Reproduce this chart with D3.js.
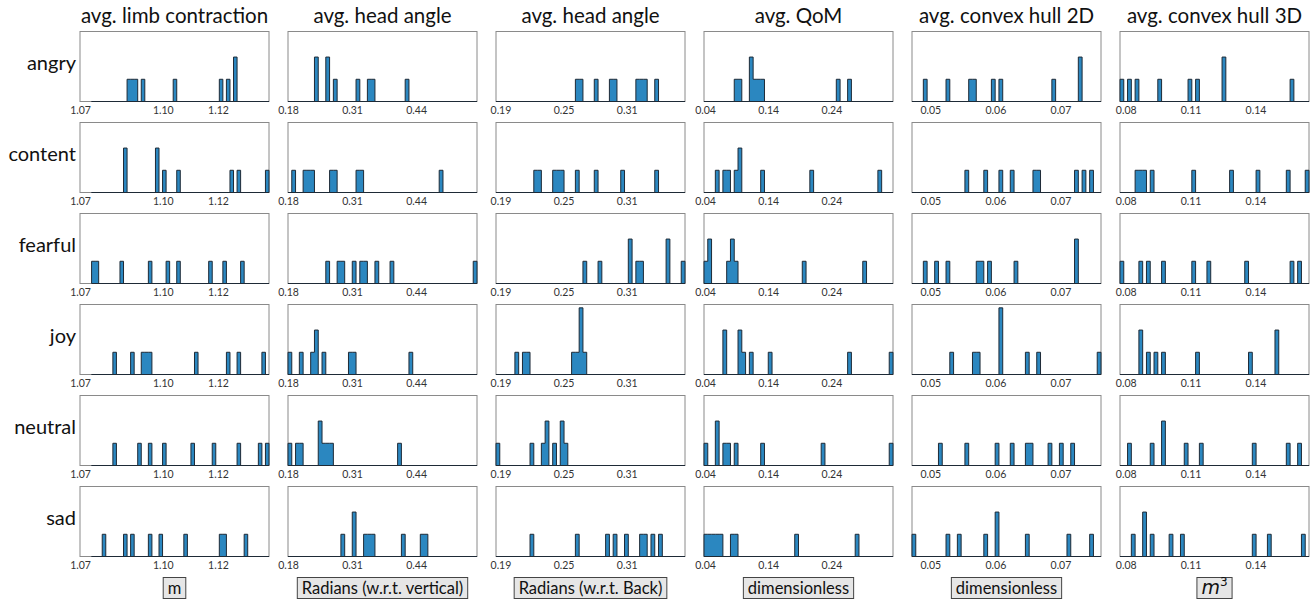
<!DOCTYPE html>
<html>
<head>
<meta charset="utf-8">
<script src="https://cdn.jsdelivr.net/npm/d3@7"></script>
<style>
  body { margin: 0; background: #fff; }
  svg text { font-family: Lato, "Open Sans", "DejaVu Sans", sans-serif; }
</style>
</head>
<body>
<svg id="chart" width="1314" height="600"></svg>
<script>
// Emotion classes (rows) and movement features (columns)
const emotions = ["angry", "content", "fearful", "joy", "neutral", "sad"];
const featureTitles = ["avg. limb contraction", "avg. head angle", "avg. head angle",
                       "avg. QoM", "avg. convex hull 2D", "avg. convex hull 3D"];
const unitLabels = ["m", "Radians (w.r.t. vertical)", "Radians (w.r.t. Back)",
                    "dimensionless", "dimensionless", "m3"];

// Axis limits and the range the histogram bins cover, per feature
const axisLimits = [[1.0700, 1.1385], [0.1800, 0.5635], [0.1858, 0.3654],
                    [0.0383, 0.3375], [0.04718, 0.07624], [0.07737, 0.16474]];
const histRanges = [[1.0742, 1.1385], [0.1800, 0.5635], [0.1858, 0.3654],
                    [0.0383, 0.3375], [0.04718, 0.07624], [0.07737, 0.16474]];
const tickValues = [[1.07, 1.10, 1.12], [0.18, 0.31, 0.44], [0.19, 0.25, 0.31],
                    [0.04, 0.14, 0.24], [0.05, 0.06, 0.07], [0.08, 0.11, 0.14]];
const tickLabels = [["1.07", "1.10", "1.12"], ["0.18", "0.31", "0.44"], ["0.19", "0.25", "0.31"],
                    ["0.04", "0.14", "0.24"], ["0.05", "0.06", "0.07"], ["0.08", "0.11", "0.14"]];
const binCount = 50;
const countMax = 3.15;

// Per-clip averages, one list per emotion (same order as `emotions`)
const limbContraction = [
  [1.0877, 1.0890, 1.0903, 1.0929, 1.1044, 1.1212, 1.1238, 1.1264, 1.1264],
  [1.0864, 1.0864, 1.0980, 1.0980, 1.1006, 1.1057, 1.1251, 1.1276, 1.1379],
  [1.0748, 1.0761, 1.0851, 1.0954, 1.1019, 1.1057, 1.1173, 1.1225, 1.1289],
  [1.0826, 1.0890, 1.0929, 1.0942, 1.0954, 1.1122, 1.1238, 1.1276, 1.1366],
  [1.0826, 1.0916, 1.0954, 1.1006, 1.1109, 1.1186, 1.1276, 1.1353, 1.1379],
  [1.0787, 1.0864, 1.0890, 1.0954, 1.0993, 1.1083, 1.1212, 1.1225, 1.1302]
];
const headAngleVertical = [
  [0.2375, 0.2375, 0.2605, 0.2605, 0.2759, 0.3219, 0.3449, 0.3526, 0.4216],
  [0.1915, 0.2145, 0.2222, 0.2299, 0.2682, 0.2759, 0.3219, 0.3296, 0.4906],
  [0.2605, 0.2836, 0.2912, 0.3142, 0.3296, 0.3372, 0.3602, 0.3909, 0.5597],
  [0.1838, 0.2068, 0.2299, 0.2375, 0.2375, 0.2529, 0.3066, 0.3142, 0.4293],
  [0.1838, 0.1992, 0.2068, 0.2452, 0.2452, 0.2529, 0.2605, 0.2682, 0.4063],
  [0.2912, 0.3142, 0.3142, 0.3372, 0.3449, 0.3526, 0.4139, 0.4523, 0.4600]
];
const headAngleBack = [
  [0.2630, 0.2666, 0.2810, 0.2954, 0.2989, 0.3205, 0.3241, 0.3277, 0.3385],
  [0.2235, 0.2271, 0.2415, 0.2451, 0.2487, 0.2630, 0.2810, 0.3061, 0.3385],
  [0.2702, 0.2846, 0.3133, 0.3133, 0.3205, 0.3241, 0.3492, 0.3492, 0.3636],
  [0.2056, 0.2127, 0.2163, 0.2594, 0.2630, 0.2666, 0.2666, 0.2666, 0.2702],
  [0.1876, 0.2199, 0.2307, 0.2343, 0.2343, 0.2415, 0.2487, 0.2487, 0.2523],
  [0.2199, 0.2630, 0.2918, 0.2989, 0.3097, 0.3241, 0.3277, 0.3349, 0.3421]
];
const quantityOfMotion = [
  [0.0892, 0.0951, 0.1131, 0.1131, 0.1191, 0.1251, 0.1311, 0.2507, 0.2687],
  [0.0592, 0.0712, 0.0772, 0.0892, 0.0951, 0.0951, 0.1311, 0.2088, 0.3166],
  [0.0413, 0.0473, 0.0473, 0.0772, 0.0832, 0.0832, 0.0892, 0.1969, 0.2926],
  [0.0712, 0.0712, 0.0951, 0.0951, 0.1011, 0.1131, 0.1430, 0.2687, 0.3345],
  [0.0413, 0.0592, 0.0592, 0.0712, 0.0772, 0.0892, 0.1311, 0.2268, 0.3345],
  [0.0413, 0.0473, 0.0533, 0.0592, 0.0652, 0.0832, 0.0892, 0.1849, 0.2807]
];
const convexHull2D = [
  [0.04921, 0.05270, 0.05619, 0.05677, 0.05968, 0.06084, 0.06898, 0.07304, 0.07304],
  [0.05561, 0.05851, 0.06084, 0.06258, 0.06607, 0.06665, 0.07246, 0.07362, 0.07479],
  [0.04921, 0.05096, 0.05270, 0.05735, 0.05793, 0.05909, 0.06316, 0.07246, 0.07246],
  [0.05328, 0.05677, 0.05735, 0.06084, 0.06084, 0.06084, 0.06491, 0.06665, 0.07595],
  [0.05154, 0.05561, 0.06026, 0.06258, 0.06491, 0.06549, 0.06839, 0.07014, 0.07188],
  [0.04747, 0.05270, 0.05445, 0.05851, 0.06026, 0.06026, 0.06491, 0.07130, 0.07479]
];
const convexHull3D = [
  [0.07824, 0.08174, 0.08523, 0.09572, 0.10970, 0.11319, 0.12542, 0.12542, 0.15688],
  [0.08523, 0.08698, 0.08873, 0.09222, 0.11144, 0.12892, 0.14115, 0.15513, 0.16387],
  [0.07824, 0.08698, 0.09048, 0.09747, 0.11144, 0.11843, 0.13591, 0.15688, 0.16037],
  [0.08698, 0.08698, 0.09048, 0.09397, 0.09747, 0.11319, 0.13766, 0.14989, 0.14989],
  [0.08174, 0.09222, 0.09747, 0.09747, 0.10795, 0.11494, 0.13940, 0.15513, 0.16037],
  [0.08349, 0.08873, 0.08873, 0.09222, 0.10096, 0.10620, 0.13940, 0.14639, 0.16212]
];
const featureValues = [limbContraction, headAngleVertical, headAngleBack,
                       quantityOfMotion, convexHull2D, convexHull3D];

// Grid geometry
const gridLeft = 80, colStep = 208, panelW = 189;
const gridTop = 31.5, rowStep = 91, panelH = 70;
const barFill = "#2b87c0", barEdge = "#1e2a36", frameColor = "#8a8a8a";

const svg = d3.select("#chart");

featureTitles.forEach((title, c) => {
  const x = d3.scaleLinear().domain(axisLimits[c]).range([0, panelW]);
  const y = d3.scaleLinear().domain([0, countMax]).range([panelH, 0]);
  const [h0, h1] = histRanges[c];
  const edges = d3.range(1, binCount).map(i => h0 + i * (h1 - h0) / binCount);
  const binner = d3.bin().domain([h0, h1]).thresholds(edges);
  const left = gridLeft + c * colStep;

  // column title
  svg.append("text")
    .attr("x", left + panelW / 2).attr("y", 22.5)
    .attr("text-anchor", "middle")
    .attr("font-size", 20.5).attr("fill", "#111")
    .text(title);

  emotions.forEach((emo, r) => {
    const top = gridTop + r * rowStep;
    const g = svg.append("g").attr("transform", `translate(${left},${top})`);

    g.append("rect")
      .attr("x", 0).attr("y", 0).attr("width", panelW).attr("height", panelH)
      .attr("fill", "none").attr("stroke", frameColor).attr("stroke-width", 1);

    // step-filled histogram outline
    const bins = binner(featureValues[c][r]);
    const pts = [[h0, 0]];
    bins.forEach(b => { pts.push([b.x0, b.length]); pts.push([b.x1, b.length]); });
    pts.push([h1, 0]);
    const line = d3.line().x(d => x(d[0])).y(d => y(d[1]));
    g.append("path")
      .attr("d", line(pts) + "Z")
      .attr("fill", barFill)
      .attr("stroke", barEdge)
      .attr("stroke-width", 1)
      .attr("stroke-linejoin", "miter");

    const axis = d3.axisBottom(x)
      .tickValues(tickValues[c])
      .tickFormat((d, i) => tickLabels[c][i])
      .tickSize(0).tickPadding(5);
    const ag = g.append("g").attr("transform", `translate(0,${panelH})`).call(axis);
    ag.select(".domain").remove();
    ag.selectAll("text").attr("font-size", 10.5).attr("fill", "#333")
      .attr("font-family", "Lato, 'DejaVu Sans', sans-serif");

    if (c === 0) {
      svg.append("text")
        .attr("x", 76).attr("y", top + panelH / 2 - 2)
        .attr("text-anchor", "end").attr("dominant-baseline", "middle")
        .attr("font-size", 20).attr("fill", "#111")
        .text(emo);
    }
  });

  // unit label in a boxed caption under each column
  const cap = svg.append("g");
  const t = cap.append("text")
    .attr("x", left + panelW / 2).attr("y", 594)
    .attr("text-anchor", "middle")
    .attr("font-size", 16.5).attr("fill", "#111");
  if (unitLabels[c] === "m3") {
    t.append("tspan").attr("font-style", "italic").attr("font-size", 19)
      .attr("font-family", "'DejaVu Sans', sans-serif").text("m");
    t.append("tspan").attr("font-size", 12).attr("dy", -8)
      .attr("font-family", "'DejaVu Sans', sans-serif").text("3");
  } else {
    t.text(unitLabels[c]);
  }
  const bb = t.node().getBBox();
  cap.insert("rect", "text")
    .attr("x", bb.x - 4.5).attr("y", 577.5)
    .attr("width", bb.width + 9).attr("height", 21)
    .attr("fill", "#e6e6e6").attr("stroke", "#444").attr("stroke-width", 1);
});
</script>
</body>
</html>
